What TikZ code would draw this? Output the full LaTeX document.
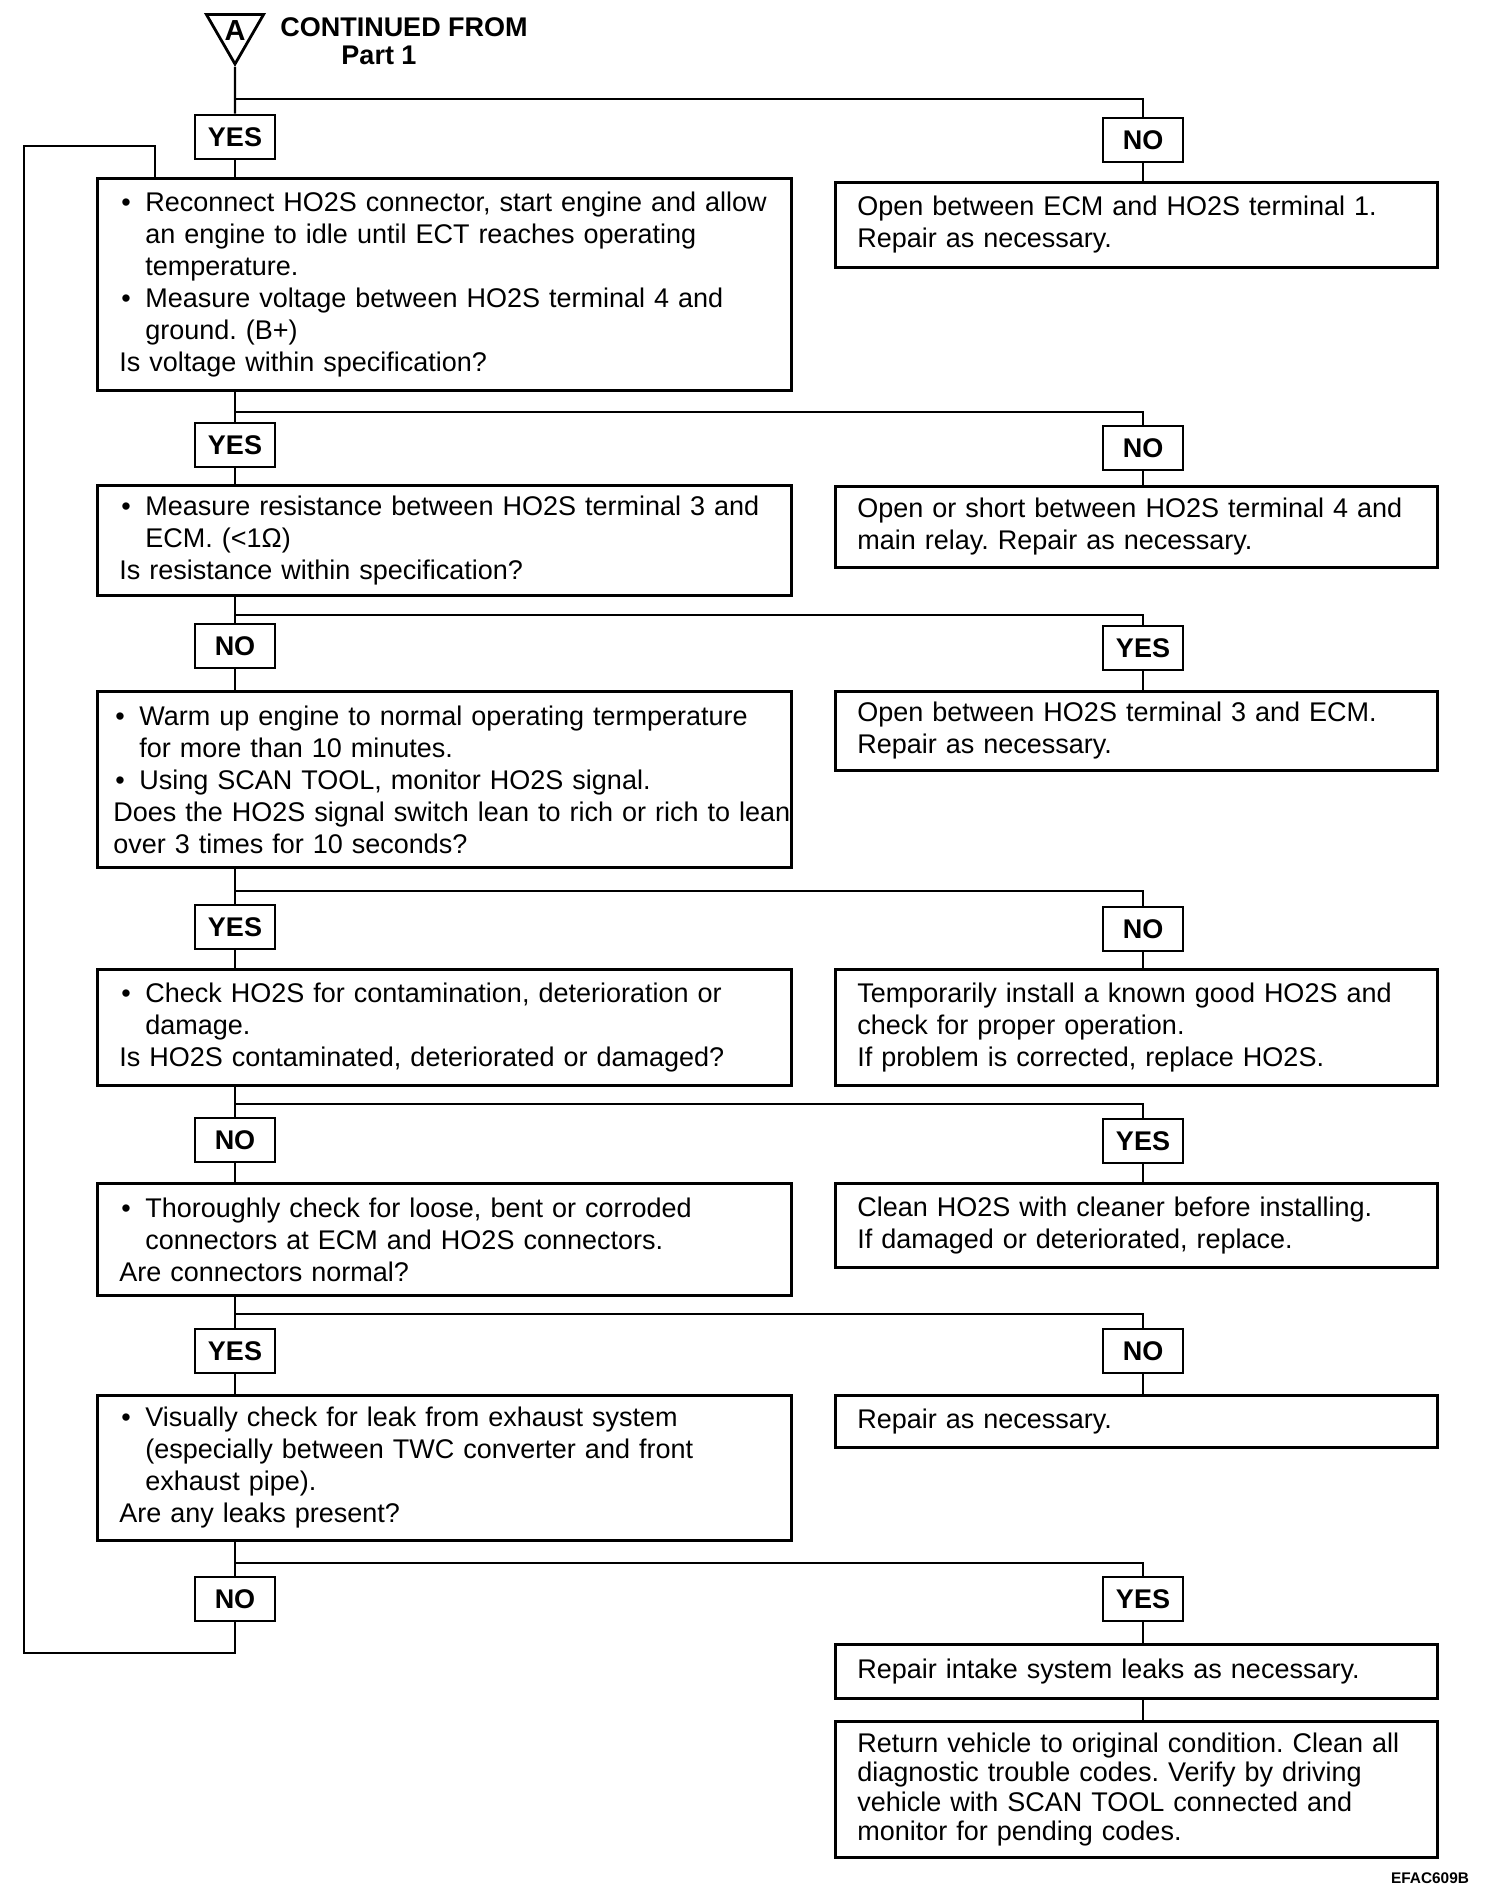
\documentclass[tikz,border=0pt]{standalone}
\usepackage{fontspec}
\setmainfont{Liberation Sans}
\usetikzlibrary{shapes,positioning,calc}

\newcommand{\boxfont}{\fontsize{13.5}{16}\selectfont}
\newcommand{\bitem}{\hangindent=13pt\hangafter=1\noindent\hbox to 13pt{\hspace{1pt}\textbullet\hfil}}

\begin{document}
\frenchspacing
\begin{tikzpicture}[x=0.5pt, y=-0.5pt]
\tikzstyle{block} = [rectangle, draw, line width=1.4pt, inner xsep=11pt, inner ysep=4pt, anchor=north west, font=\boxfont]
\tikzstyle{lblock} = [block, text width=325pt]
\tikzstyle{rblock} = [block, text width=279pt]
\tikzstyle{answer} = [rectangle, draw, line width=1.4pt, minimum width=40pt, minimum height=22pt, inner sep=0pt, font=\boxfont\bfseries]
\tikzstyle{line} = [draw, line width=1.2pt]

\useasboundingbox (0,0) rectangle (1504,1896);

% start
\node [regular polygon, regular polygon sides=3, shape border rotate=180, draw, line width=1.4pt, minimum size=33pt, inner sep=0pt, font=\fontsize{14.5}{16}\selectfont\bfseries] (tri) at (235,31) {A};
\node [font=\boxfont\bfseries] (hdr) at (404,27) {CONTINUED FROM};
\node [font=\boxfont\bfseries] (part) at (379,55) {Part 1};

% branch points
\coordinate (j1) at (235,99);
\coordinate (j2) at (235,412);
\coordinate (j3) at (235,615);
\coordinate (j4) at (235,891);
\coordinate (j5) at (235,1104);
\coordinate (j6) at (235,1314);
\coordinate (j7) at (235,1563);

% answers
\node [answer] (yes1) at (235,137) {YES};
\node [answer] (no1) at (1143,140) {NO};
\node [answer] (yes2) at (235,445) {YES};
\node [answer] (no2) at (1143,448) {NO};
\node [answer] (no3) at (235,646) {NO};
\node [answer] (yes3) at (1143,648) {YES};
\node [answer] (yes4) at (235,927) {YES};
\node [answer] (no4) at (1143,929) {NO};
\node [answer] (no5) at (235,1140) {NO};
\node [answer] (yes5) at (1143,1141) {YES};
\node [answer] (yes6) at (235,1351) {YES};
\node [answer] (no6) at (1143,1351) {NO};
\node [answer] (no7) at (235,1599) {NO};
\node [answer] (yes7) at (1143,1599) {YES};

% checks
\node [lblock, minimum height=106pt] (volt) at (96,177) {\bitem Reconnect HO2S connector, start engine and allow\newline an engine to idle until ECT reaches operating\newline temperature.\par
\bitem Measure voltage between HO2S terminal 4 and\newline ground. (B+)\par
Is voltage within specification?};
\node [lblock, minimum height=55pt] (resist) at (96,484) {\bitem Measure resistance between HO2S terminal 3 and\newline ECM. (<1Ω)\par
Is resistance within specification?};
\node [lblock, minimum height=88pt, inner xsep=8pt, text width=331pt] (signal) at (96,690) {\bitem Warm up engine to normal operating termperature\newline for more than 10 minutes.\par
\bitem Using SCAN TOOL, monitor HO2S signal.\par
\mbox{Does the HO2S signal switch lean to rich or rich to lean}\newline over 3 times for 10 seconds?};
\node [lblock, minimum height=58pt] (contam) at (96,968) {\bitem Check HO2S for contamination, deterioration or\newline damage.\par
Is HO2S contaminated, deteriorated or damaged?};
\node [lblock, minimum height=56pt] (conn) at (96,1182) {\bitem Thoroughly check for loose, bent or corroded\newline connectors at ECM and HO2S connectors.\par
Are connectors normal?};
\node [lblock, minimum height=72.5pt] (leak) at (96,1394) {\bitem Visually check for leak from exhaust system\newline (especially between TWC converter and front\newline exhaust pipe).\par
Are any leaks present?};

% repairs
\node [rblock, minimum height=42.5pt] (ecmopen) at (834,181) {Open between ECM and HO2S terminal 1.\newline Repair as necessary.};
\node [rblock, minimum height=40.5pt] (relay) at (834,485) {Open or short between HO2S terminal 4 and\newline main relay. Repair as necessary.};
\node [rblock, minimum height=39.5pt] (t3open) at (834,690) {Open between HO2S terminal 3 and ECM.\newline Repair as necessary.};
\node [rblock, minimum height=58pt] (install) at (834,968) {Temporarily install a known good HO2S and\newline check for proper operation.\newline If problem is corrected, replace HO2S.};
\node [rblock, minimum height=42pt] (clean) at (834,1182) {Clean HO2S with cleaner before installing.\newline If damaged or deteriorated, replace.};
\node [rblock, minimum height=26pt] (repair) at (834,1394) {Repair as necessary.};
\node [rblock, minimum height=27pt] (intake) at (834,1643) {Repair intake system leaks as necessary.};
\node [rblock, minimum height=68pt, font=\fontsize{13.5}{14.7}\selectfont] (finish) at (834,1720) {Return vehicle to original condition. Clean all\newline diagnostic trouble codes. Verify by driving\newline vehicle with SCAN TOOL connected and\newline monitor for pending codes.};

\node [font=\fontsize{7.7}{9}\selectfont\bfseries] (code) at (1430,1878) {EFAC609B};

% loop corners
\coordinate (lpb) at (24,1653);
\coordinate (lpt) at (155,146);

% connectors
\path [line] (tri) -- (yes1);
\path [line] (j1) -| (no1);
\path [line] (yes1) -- (yes1 |- volt.north);
\path [line] (no1) -- (no1 |- ecmopen.north);

\path [line] (volt.south -| yes2) -- (yes2);
\path [line] (j2) -| (no2);
\path [line] (yes2) -- (yes2 |- resist.north);
\path [line] (no2) -- (no2 |- relay.north);

\path [line] (resist.south -| no3) -- (no3);
\path [line] (j3) -| (yes3);
\path [line] (no3) -- (no3 |- signal.north);
\path [line] (yes3) -- (yes3 |- t3open.north);

\path [line] (signal.south -| yes4) -- (yes4);
\path [line] (j4) -| (no4);
\path [line] (yes4) -- (yes4 |- contam.north);
\path [line] (no4) -- (no4 |- install.north);

\path [line] (contam.south -| no5) -- (no5);
\path [line] (j5) -| (yes5);
\path [line] (no5) -- (no5 |- conn.north);
\path [line] (yes5) -- (yes5 |- clean.north);

\path [line] (conn.south -| yes6) -- (yes6);
\path [line] (j6) -| (no6);
\path [line] (yes6) -- (yes6 |- leak.north);
\path [line] (no6) -- (no6 |- repair.north);

\path [line] (leak.south -| no7) -- (no7);
\path [line] (j7) -| (yes7);
\path [line] (yes7) -- (yes7 |- intake.north);
\path [line] (intake.south -| yes7) -- (finish.north -| yes7);

% back to the first check
\path [line] (no7) |- (lpb) |- (lpt) -- (lpt |- volt.north);

\end{tikzpicture}
\end{document}
